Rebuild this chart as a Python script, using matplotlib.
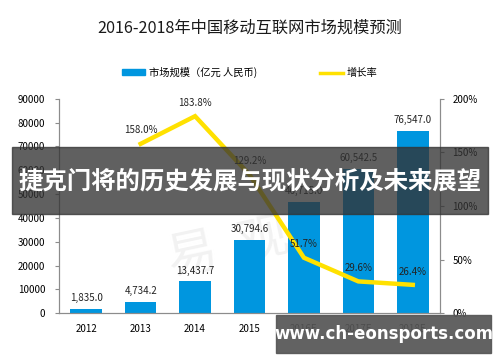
import numpy as np
import matplotlib
matplotlib.use("Agg")
import matplotlib.pyplot as plt
from matplotlib.patches import Rectangle
from matplotlib.lines import Line2D
from matplotlib.patches import Patch

plt.rcParams['font.family'] = ['Noto Sans CJK SC', 'DejaVu Sans']

# data
years = ['2012', '2013', '2014', '2015', '2016E', '2017E', '2018E']
year_labels = ['2012', '2013', '2014', '2015', '2016E', '2017E', '2018E']
market = [1835.0, 4734.2, 13437.7, 30794.6, 46715.0, 60542.5, 76547.0]
growth = [np.nan, 158.0, 183.8, 129.2, 51.7, 29.6, 26.4]

blue = '#0096DF'
yellow = '#FFE100'
grey = '#8c8c8c'

fig = plt.figure(figsize=(5, 3.62), dpi=100)
ax = fig.add_axes([0.118, 0.135, 0.762, 0.592])
x = np.arange(len(years))

ax.bar(x, market, width=0.58, color=blue, zorder=2)
for xi, v in zip(x, market):
    ax.annotate(f'{v:,.1f}', (xi, v), xytext=(0, 4), textcoords='offset points',
                ha='center', va='bottom', fontsize=7, color='#222222')

# faint watermark behind the bars
ax.text(2.6, 27000, '易  观', ha='center', va='center', fontsize=36, color='#f2f2f2',
        rotation=12, zorder=1)

ax.set_xlim(-0.5, len(years) - 0.5)
ax.set_ylim(0, 90000)
ax.set_yticks(np.arange(0, 90001, 10000))
ax.set_xticks(x)
ax.set_xticklabels(year_labels)
ax.tick_params(axis='y', labelsize=7, length=3, color=grey, pad=7)
ax.tick_params(axis='x', labelsize=7, length=0, pad=8)
ax.spines['top'].set_visible(False)
for s in ['left', 'right', 'bottom']:
    ax.spines[s].set_color(grey)
    ax.spines[s].set_linewidth(0.8)

ax2 = ax.twinx()
ax2.plot(x, growth, color=yellow, lw=3.2, zorder=3, solid_joinstyle='miter')
for xi, g in zip(x, growth):
    if not np.isnan(g):
        ax2.annotate(f'{g:.1f}%', (xi, g), xytext=(0, 6), textcoords='offset points',
                     ha='center', va='bottom', fontsize=7, color='#222222')
ax2.set_ylim(0, 200)
ax2.set_yticks([0, 50, 100, 150, 200])
ax2.set_yticklabels(['0%', '50%', '100%', '150%', '200%'])
ax2.tick_params(axis='y', labelsize=7, length=3, color=grey, pad=6)
ax2.spines['top'].set_visible(False)
for s in ['left', 'right', 'bottom']:
    ax2.spines[s].set_color(grey)
    ax2.spines[s].set_linewidth(0.8)

fig.text(0.5, 0.922, '2016-2018年中国移动互联网市场规模预测', ha='center', va='center',
         fontsize=11.7, color='#1a1a1a')

handles = [Patch(color=blue), Line2D([], [], color=yellow, lw=2.5)]
fig.legend(handles, ['市场规模（亿元 人民币)', '增长率'], loc='center', bbox_to_anchor=(0.5, 0.8),
           ncol=2, frameon=False, fontsize=7.4, handlelength=2.2, handleheight=0.5,
           columnspacing=6.1, handletextpad=0.4)

# overlay banners
fig.patches.append(Rectangle((0.024, 0.408), 0.952, 0.185, transform=fig.transFigure,
                             color='#333333', alpha=0.78, zorder=5))
fig.text(0.5, 0.5, '捷克门将的历史发展与现状分析及未来展望', ha='center', va='center',
         fontsize=17.6, color='white', fontweight='bold', zorder=6)
fig.patches.append(Rectangle((0.552, 0.025), 0.43, 0.105, transform=fig.transFigure,
                             color='#555555', alpha=0.92, zorder=5))
fig.text(0.767, 0.077, 'www.ch-eonsports.com', ha='center', va='center',
         fontsize=12, color='white', fontweight='bold', zorder=6, family='DejaVu Sans')

fig.savefig('out.png', dpi=100)
